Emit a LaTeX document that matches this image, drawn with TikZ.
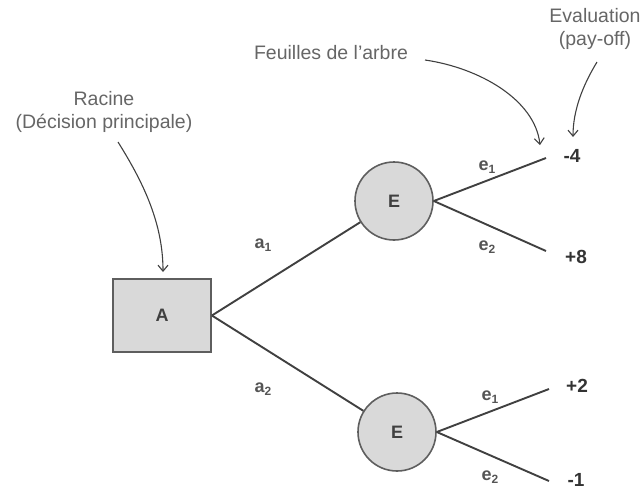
\documentclass[tikz,border=0pt]{standalone}
\usepackage{fontspec}
\setmainfont{Liberation Sans}
\usetikzlibrary{arrows.meta}
\definecolor{boxfill}{HTML}{D9D9D9}
\definecolor{boxline}{HTML}{5E5E5E}
\definecolor{edgecol}{HTML}{404040}
\definecolor{txtgrey}{HTML}{666666}
\definecolor{lblgrey}{HTML}{555555}
\definecolor{valcol}{HTML}{333333}
\newcommand{\sbx}[1]{\raisebox{-3.5pt}{\fontsize{12}{14}\selectfont #1}}
\tikzset{
  decision/.style={draw=boxline, fill=boxfill, line width=1.8pt, minimum width=98pt, minimum height=73pt, inner sep=0pt, font=\fontsize{18}{22}\selectfont\bfseries, text=edgecol},
  chance/.style={circle, draw=boxline, fill=boxfill, line width=1.6pt, minimum size=78pt, inner sep=0pt, font=\fontsize{18}{22}\selectfont\bfseries, text=edgecol},
  branch/.style={draw=edgecol, line width=1.9pt},
  note/.style={text=txtgrey, font=\fontsize{19.5}{23}\selectfont, align=center, inner sep=0pt},
  lbl/.style={text=lblgrey, font=\fontsize{18}{22}\selectfont\bfseries, inner sep=0pt},
  val/.style={text=valcol, font=\fontsize{19}{23}\selectfont\bfseries, inner sep=0pt},
  pointer/.style={draw=edgecol, line width=1.1pt, -{Straight Barb[length=6pt, width=10pt]}},
}
\begin{document}
\begin{tikzpicture}[x=1pt, y=-1pt]
\useasboundingbox (0,0) rectangle (643,491);
% nodes
\node[decision] (A) at (162,315.5) {A};
\node[chance] (E1) at (394,201) {E};
\node[chance] (E2) at (397,432) {E};
\coordinate (L1) at (546,158);
\coordinate (L2) at (546,251);
\coordinate (L3) at (549,389);
\coordinate (L4) at (549,481);
% branches
\draw[branch] (A.east) -- (E1);
\draw[branch] (A.east) -- (E2);
\draw[branch] (E1.east) -- (L1);
\draw[branch] (E1.east) -- (L2);
\draw[branch] (E2.east) -- (L3);
\draw[branch] (E2.east) -- (L4);
% branch labels
\node[lbl] (a1) at (263,245) {a\sbx{1}};
\node[lbl] (a2) at (263,389) {a\sbx{2}};
\node[lbl] (e11) at (487,167) {e\sbx{1}};
\node[lbl] (e12) at (487,247) {e\sbx{2}};
\node[lbl] (e21) at (490,397) {e\sbx{1}};
\node[lbl] (e22) at (490,477) {e\sbx{2}};
% values
\node[val] (v1) at (572,156) {-4};
\node[val] (v2) at (576,257) {+8};
\node[val] (v3) at (577,386) {+2};
\node[val] (v4) at (576,480) {-1};
% annotations
\node[note] (racine) at (104,112) {Racine\\(Décision principale)};
\node[note] (feuilles) at (331,53) {Feuilles de l’arbre};
\node[note] (eval) at (595,29) {Evaluation\\(pay-off)};
\coordinate (r0) at (118,142);
\coordinate (r1) at (163,272);
\coordinate (f0) at (425,60);
\coordinate (f1) at (540,145);
\coordinate (p0) at (597,62);
\coordinate (p1) at (573,137);
\draw[pointer] (r0) .. controls (145,185) and (163,225) .. (r1);
\draw[pointer] (f0) .. controls (480,68) and (535,100) .. (f1);
\draw[pointer] (p0) .. controls (583,85) and (573,110) .. (p1);
\end{tikzpicture}
\end{document}
